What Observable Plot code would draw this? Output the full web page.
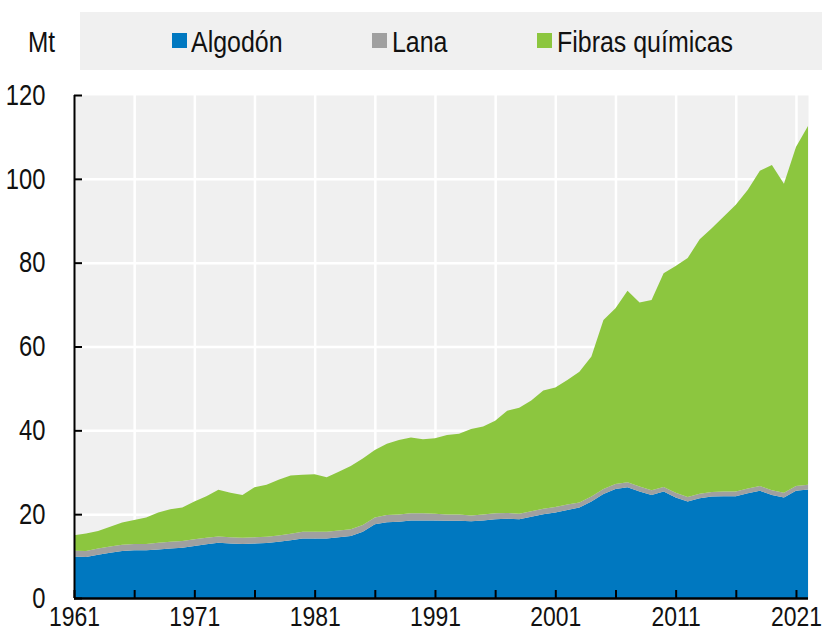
<!DOCTYPE html>
<html><head><meta charset="utf-8">
<script src="https://cdn.jsdelivr.net/npm/d3@7"></script>
<script src="https://cdn.jsdelivr.net/npm/@observablehq/plot@0.6"></script>
<style>
body{margin:0;background:#fff;font-family:"Liberation Sans Narrow","Arial Narrow","Liberation Sans",sans-serif;color:#111;}
#legend{position:relative;width:822px;height:80px;}
#mt{position:absolute;left:28px;top:28px;font-size:29px;line-height:29px;transform:scaleX(0.84);transform-origin:0 0;}
#box{position:absolute;left:80px;top:12px;width:742px;height:58px;background:#f0f0f0;}
.item{position:absolute;top:28px;font-size:29px;line-height:29px;white-space:nowrap;transform:scaleX(0.86);transform-origin:0 0;}
.sw{position:absolute;top:33px;width:15px;height:15px;}
#chart svg{display:block;}
</style></head><body>
<div id="legend"><div id="mt">Mt</div><div id="box"></div></div>
<div id="chart"></div>
<script>
const years = [1961,1962,1963,1964,1965,1966,1967,1968,1969,1970,1971,1972,1973,1974,1975,1976,1977,1978,1979,1980,1981,1982,1983,1984,1985,1986,1987,1988,1989,1990,1991,1992,1993,1994,1995,1996,1997,1998,1999,2000,2001,2002,2003,2004,2005,2006,2007,2008,2009,2010,2011,2012,2013,2014,2015,2016,2017,2018,2019,2020,2021,2022];
const cotton = [9.9,9.8,10.3,10.8,11.2,11.4,11.4,11.6,11.8,12.0,12.4,12.8,13.2,13.0,12.9,13.0,13.1,13.4,13.8,14.2,14.2,14.2,14.5,14.8,15.8,17.6,18.1,18.2,18.5,18.5,18.5,18.4,18.4,18.3,18.5,18.8,18.9,18.8,19.4,20.0,20.4,21.0,21.6,23.0,24.8,26.0,26.4,25.4,24.6,25.4,24.0,23.0,23.8,24.2,24.3,24.3,25.0,25.6,24.6,24.0,25.6,25.9];
const wool = [1.4,1.4,1.5,1.5,1.5,1.5,1.5,1.6,1.6,1.6,1.6,1.6,1.5,1.5,1.5,1.5,1.5,1.5,1.5,1.6,1.6,1.6,1.6,1.6,1.6,1.6,1.7,1.7,1.7,1.7,1.6,1.5,1.5,1.4,1.4,1.4,1.4,1.3,1.3,1.3,1.3,1.3,1.2,1.2,1.2,1.2,1.2,1.2,1.1,1.1,1.1,1.1,1.1,1.1,1.1,1.1,1.1,1.1,1.1,1.1,1.1,1.1];
const chemical = [3.7,4.2,4.2,4.7,5.3,5.7,6.3,7.2,7.8,8.0,9.0,9.9,11.1,10.6,10.2,11.9,12.4,13.3,13.9,13.6,13.7,13.0,14.0,15.1,15.9,16.1,17.0,17.8,18.1,17.7,18.0,19.0,19.3,20.6,21.0,22.1,24.4,25.3,26.4,28.2,28.5,29.7,31.2,33.4,40.3,41.9,45.7,43.9,45.4,51.0,54.1,57.0,60.7,62.9,65.6,68.4,71.3,75.2,77.6,73.7,80.9,85.6];
const seriesNames = ["Algodón","Lana","Fibras químicas"];
const seriesColors = ["#0078c0","#a0a0a0","#8cc63f"];
const labelYears = [1961,1971,1981,1991,2001,2011,2021];
const tickYears = [1961,1966,1971,1976,1981,1986,1991,1996,2001,2006,2011,2016,2021];
const gridYears = [1966,1971,1976,1981,1986,1991,1996,2001,2006,2011,2016,2021];
const yTicks = [0,20,40,60,80,100,120];
const yGrid = [20,40,60,80,100];

// legend
const legendPos = [[172,191],[372,392],[537,557]];
const leg = document.getElementById("legend");
seriesNames.forEach((n,i)=>{
  const sw = document.createElement("div");
  sw.className="sw"; sw.style.left=legendPos[i][0]+"px"; sw.style.background=seriesColors[i];
  leg.appendChild(sw);
  const t = document.createElement("div");
  t.className="item"; t.style.left=legendPos[i][1]+"px"; t.textContent=n;
  leg.appendChild(t);
});

const series = [cotton, wool, chemical];
const data = years.flatMap((yr,i)=>seriesNames.map((s,k)=>({year:yr, series:s, value:series[k][i]})));

const chart = Plot.plot({
  width: 822, height: 556,
  marginTop: 15, marginBottom: 38, marginLeft: 74, marginRight: 14,
  x: {domain: [1961, 2022], label: null},
  y: {domain: [0, 120], label: null},
  color: {domain: seriesNames, range: seriesColors},
  style: {fontFamily: '"Liberation Sans Narrow","Arial Narrow","Liberation Sans",sans-serif', fontSize: "28px", color: "#111", background: "#fff"},
  marks: [
    Plot.frame({fill: "#f0f0f0"}),
    Plot.ruleX(gridYears, {x: d=>d, stroke: "#fff", strokeWidth: 2.5}),
    Plot.ruleY(yGrid, {y: d=>d, stroke: "#fff", strokeWidth: 2.5}),
    Plot.areaY(data, {x: "year", y: "value", fill: "series", order: seriesNames}),
    Plot.ruleX([1961], {stroke: "#000", strokeWidth: 2}),
    Plot.ruleY([0], {stroke: "#000", strokeWidth: 2.5}),
    Plot.ruleX(tickYears, {x: d=>d, y1: 0, y2: 0, insetTop: -8, stroke: "#000", strokeWidth: 2}),
    Plot.ruleY(yTicks, {y: d=>d, x1: 1961, x2: 1961, insetRight: -8, stroke: "#000", strokeWidth: 2}),
    Plot.axisX({ticks: labelYears, tickSize: 0, tickPadding: 8, tickFormat: d=>String(d), fontSize: 28, label: null}),
    Plot.axisY({ticks: yTicks, tickSize: 0, tickPadding: 29, fontSize: 29, label: null})
  ]
});
// condense the axis text horizontally (narrow face substitute)
chart.querySelectorAll("text").forEach(t=>{
  const tr = t.getAttribute("transform");
  if (tr) {
    t.setAttribute("transform", tr + " scale(0.82,1)");
  } else {
    const x = +(t.getAttribute("x")||0), y = +(t.getAttribute("y")||0);
    t.setAttribute("x", 0); t.setAttribute("y", 0);
    t.setAttribute("transform", `translate(${x},${y}) scale(0.82,1)`);
  }
});
document.getElementById("chart").appendChild(chart);
</script>
</body></html>
